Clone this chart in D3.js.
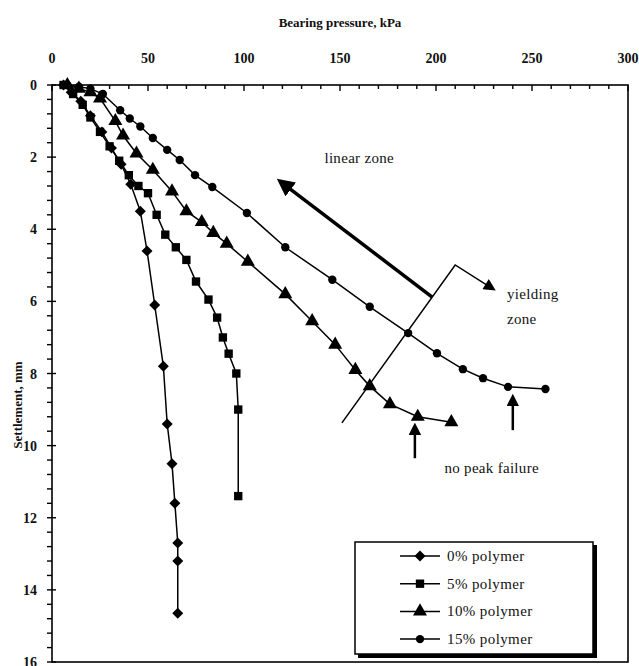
<!DOCTYPE html>
<meta charset="utf-8">
<head>
  <title>Settlement vs bearing pressure</title>
</head>

<style>
body {
  margin: 0;
  background: #fff;
}

svg text {
  fill: #111;
  font-family: "Liberation Serif", "DejaVu Serif", serif;
}

.frame {
  fill: none;
  stroke: #000;
  stroke-width: 1.6;
}

.axis path, .axis line {
  stroke: #000;
  stroke-width: 1.4;
}

.axis text {
  font-size: 14px;
  font-weight: bold;
}

.series path.line {
  fill: none;
  stroke: #000;
  stroke-width: 1.5;
}

.series path.marker {
  fill: #000;
}

.note {
  font-size: 15px;
  letter-spacing: 0.3px;
}

.legend text {
  font-size: 15px;
  letter-spacing: 0.4px;
}
</style>

<body>
  <svg width="639" height="666"></svg>

  <script src="https://cdnjs.cloudflare.com/ajax/libs/d3/7.8.5/d3.min.js"></script>

  <script>
// bearing pressure (kPa) and settlement (mm)
var series = ['0% polymer', '5% polymer', '10% polymer', '15% polymer'];

var p0 = [[6,0],[10,0.2],[15,0.45],[20,0.85],[26,1.3],[31,1.75],[36,2.2],[41,2.75],[46,3.5],[49.5,4.6],[53.5,6.1],[58,7.8],[60,9.4],[62.5,10.5],[64,11.6],[65.5,12.7],[65.5,13.2],[65.5,14.65]];
var p5 = [[6,0],[11,0.25],[16,0.55],[20,0.9],[25,1.3],[30,1.7],[35,2.1],[40,2.5],[45,2.8],[50,3.0],[54.5,3.6],[59,4.15],[64.5,4.5],[70,4.85],[75,5.45],[81.5,5.95],[86,6.45],[89,7.0],[92,7.45],[96,8.0],[97,9.0],[97,11.4]];
var p10 = [[8,0],[14,0.1],[20,0.2],[25,0.37],[33,1.0],[37,1.4],[44,1.9],[52.5,2.35],[62.5,2.95],[70,3.5],[78,3.8],[84,4.1],[91,4.4],[102,4.9],[121.5,5.8],[135.5,6.55],[147.5,7.2],[158,7.9],[165.5,8.35],[176,8.85],[190.5,9.2],[208,9.35]];
var p15 = [[8,0],[14,0.05],[20,0.1],[26.5,0.25],[35.5,0.7],[40.5,0.93],[46,1.15],[52.5,1.47],[60,1.8],[66.5,2.08],[74.5,2.5],[83.5,2.83],[101.5,3.55],[121.5,4.5],[146,5.4],[165.5,6.15],[185.5,6.88],[200.5,7.44],[214,7.88],[224.5,8.13],[237.5,8.37],[257,8.43]];

var data = [p0, p5, p10, p15];

// square diamond, wider than d3's built-in one
var wideDiamond = {
  draw: function(ctx, size) {
    var r = Math.sqrt(size / 2);
    ctx.moveTo(0, -r);
    ctx.lineTo(r, 0);
    ctx.lineTo(0, r);
    ctx.lineTo(-r, 0);
    ctx.closePath();
  }
};
var symbols = [wideDiamond, d3.symbolSquare, d3.symbolTriangle, d3.symbolCircle];
var symbolSizes = [60, 70, 85, 55];

var xTicks = [0, 50, 100, 150, 200, 250, 300];
var yTicks = [0, 2, 4, 6, 8, 10, 12, 14, 16];

// annotation positions in data units
var linearArrow = [[198, 5.88], [120, 2.72]];
var yieldLine = [[151, 9.37], [210, 4.99], [229, 5.63]];
var failArrows = [[[189, 10.35], [189, 9.5]], [[240, 9.57], [240, 8.7]]];
var notes = [
  {text: 'linear zone', at: [160, 2.02], anchor: 'middle'},
  {text: 'yielding', at: [237, 5.8], anchor: 'start'},
  {text: 'zone', at: [237, 6.5], anchor: 'start'},
  {text: 'no peak failure', at: [229, 10.62], anchor: 'middle'}
];

var svg = d3.select('svg');
var plotL = 52, plotR = 628, plotT = 85, plotB = 662;

var x = d3.scaleLinear().domain([0, 300]).range([plotL, plotR]);
var y = d3.scaleLinear().domain([0, 16]).range([plotT, plotB]);

// arrow heads
var defs = svg.append('defs');
defs.append('marker')
  .attr('id', 'head')
  .attr('viewBox', '0 0 10 10')
  .attr('refX', 6).attr('refY', 5)
  .attr('markerWidth', 5).attr('markerHeight', 5)
  .attr('markerUnits', 'strokeWidth')
  .attr('orient', 'auto')
  .append('path')
  .attr('d', 'M0,0L10,5L0,10Z');
defs.append('marker')
  .attr('id', 'headThin')
  .attr('viewBox', '0 0 10 10')
  .attr('refX', 6).attr('refY', 5)
  .attr('markerWidth', 9).attr('markerHeight', 8)
  .attr('markerUnits', 'strokeWidth')
  .attr('orient', 'auto')
  .append('path')
  .attr('d', 'M0,0L10,5L0,10Z');

svg.append('rect')
  .attr('class', 'frame')
  .attr('x', plotL).attr('y', plotT)
  .attr('width', plotR - plotL).attr('height', plotB - plotT);

// top axis: labels above, ticks inside
var xMinor = d3.range(0, 301, 10);
svg.append('g')
  .attr('class', 'axis')
  .selectAll('line')
  .data(xMinor)
  .join('line')
  .attr('x1', x).attr('x2', x)
  .attr('y1', plotT)
  .attr('y2', function(d) { return plotT + (d % 50 === 0 ? 6 : 4); });

svg.append('g')
  .attr('class', 'axis')
  .selectAll('text')
  .data(xTicks)
  .join('text')
  .attr('x', x)
  .attr('y', 63)
  .attr('text-anchor', 'middle')
  .text(function(d) { return d; });

// left axis: minor ticks outside, major cross
var yMinor = d3.range(0, 41, 1).map(function(i) { return i * 0.4; });
svg.append('g')
  .attr('class', 'axis')
  .selectAll('line')
  .data(yMinor)
  .join('line')
  .attr('y1', y).attr('y2', y)
  .attr('x1', plotL - 5)
  .attr('x2', function(d) { return Math.abs(d - Math.round(d / 2) * 2) < 1e-6 ? plotL + 4 : plotL; });

svg.append('g')
  .attr('class', 'axis')
  .selectAll('text')
  .data(yTicks)
  .join('text')
  .attr('x', 37)
  .attr('y', function(d) { return y(d) + 5; })
  .attr('text-anchor', 'end')
  .text(function(d) { return d; });

// axis titles
svg.append('text')
  .attr('x', (plotL + plotR) / 2)
  .attr('y', 27)
  .attr('text-anchor', 'middle')
  .style('font-size', '13px')
  .style('font-weight', 'bold')
  .text('Bearing pressure, kPa');

svg.append('text')
  .attr('transform', 'translate(22,405) rotate(-90)')
  .attr('text-anchor', 'middle')
  .style('font-size', '13px')
  .style('font-weight', 'bold')
  .text('Settlement, mm');

// series
var line = d3.line()
  .x(function(d) { return x(d[0]); })
  .y(function(d) { return y(d[1]); });

var g = svg.append('g').attr('class', 'series');
data.forEach(function(pts, i) {
  g.append('path').attr('class', 'line').attr('d', line(pts));
  var sym = d3.symbol().type(symbols[i]).size(symbolSizes[i]);
  g.selectAll('path.m' + i)
    .data(pts)
    .join('path')
    .attr('class', 'marker m' + i)
    .attr('transform', function(d) { return 'translate(' + x(d[0]) + ',' + y(d[1]) + ')'; })
    .attr('d', sym);
});

// annotations
svg.append('path')
  .attr('d', line(linearArrow))
  .attr('fill', 'none')
  .attr('stroke', '#000')
  .attr('stroke-width', 3.5)
  .attr('marker-end', 'url(#head)');

svg.append('path')
  .attr('d', line(yieldLine))
  .attr('fill', 'none')
  .attr('stroke', '#000')
  .attr('stroke-width', 1.5)
  .attr('marker-end', 'url(#headThin)');

svg.selectAll('path.fail')
  .data(failArrows)
  .join('path')
  .attr('class', 'fail')
  .attr('d', line)
  .attr('fill', 'none')
  .attr('stroke', '#000')
  .attr('stroke-width', 2.5)
  .attr('marker-end', 'url(#head)');

svg.selectAll('text.note')
  .data(notes)
  .join('text')
  .attr('class', 'note')
  .attr('x', function(d) { return x(d.at[0]); })
  .attr('y', function(d) { return y(d.at[1]) + 5; })
  .attr('text-anchor', function(d) { return d.anchor; })
  .text(function(d) { return d.text; });

// legend with drop shadow
var lg = svg.append('g').attr('class', 'legend');
lg.append('rect')
  .attr('x', 358).attr('y', 545)
  .attr('width', 239).attr('height', 113)
  .attr('fill', '#000');
lg.append('rect')
  .attr('x', 355).attr('y', 542)
  .attr('width', 238).attr('height', 112)
  .attr('fill', '#fff')
  .attr('stroke', '#000')
  .attr('stroke-width', 1.5);

var rows = lg.selectAll('g.row')
  .data(series)
  .join('g')
  .attr('class', 'row')
  .attr('transform', function(d, i) { return 'translate(0,' + (556 + i * 27.7) + ')'; });

rows.append('line')
  .attr('x1', 400).attr('x2', 440)
  .attr('stroke', '#000').attr('stroke-width', 1.5);
rows.append('path')
  .attr('transform', 'translate(420,0)')
  .attr('d', function(d, i) { return d3.symbol().type(symbols[i]).size(symbolSizes[i])(); });
rows.append('text')
  .attr('x', 447)
  .attr('y', 5)
  .text(function(d) { return d; });
  </script>
</body>
</html>
